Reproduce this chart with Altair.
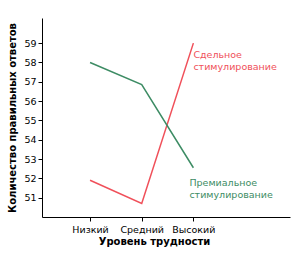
import altair as alt
import pandas as pd

categories = ["Низкий", "Средний", "Высокий"]
series_names = ["Сдельное стимулирование", "Премиальное стимулирование"]
piece_rate = [51.9, 50.7, 59.0]
premium = [58.0, 56.85, 52.55]
y_ticks = [51, 52, 53, 54, 55, 56, 57, 58, 59]

rows = []
for i, c in enumerate(categories):
    rows.append({"idx": i, "cat": c, "series": series_names[0], "value": piece_rate[i]})
    rows.append({"idx": i, "cat": c, "series": series_names[1], "value": premium[i]})
df = pd.DataFrame(rows)

colors = ["#f0505a", "#3d8c64"]
FONT = "DejaVu Sans"

x_scale = alt.Scale(domain=[-0.93, 3.87], nice=False, zero=False)
y_scale = alt.Scale(domain=[50, 60.3], nice=False, zero=False)

x_axis = alt.Axis(values=[0, 1, 2], grid=False, labelOverlap=False,
                  labelExpr="['Низкий','Средний','Высокий'][datum.value]",
                  title="Уровень трудности", titleFontWeight="bold",
                  titleX=112, titleAlign="center",
                  titleFont=FONT, titleFontSize=10, titlePadding=3,
                  labelFont=FONT, labelFontSize=9.5, labelColor="#000",
                  domainColor="#000", tickColor="#000", tickSize=4,
                  labelPadding=3)
y_axis = alt.Axis(values=y_ticks, grid=False, labelOverlap=False,
                  title="Количество правильных ответов", titleFontWeight="bold",
                  titleFont=FONT, titleFontSize=10, titlePadding=6,
                  labelFont=FONT, labelFontSize=9.5, labelColor="#000",
                  domainColor="#000", tickColor="#000", tickSize=4,
                  labelPadding=2)

def xe():
    return alt.X("idx:Q", scale=x_scale, axis=x_axis)

def ye():
    return alt.Y("value:Q", scale=y_scale, axis=y_axis)

lines = alt.Chart(df).mark_line(strokeWidth=1.5).encode(
    x=xe(), y=ye(),
    color=alt.Color("series:N", scale=alt.Scale(domain=series_names, range=colors), legend=None),
    detail="series:N",
)

lab1 = pd.DataFrame({"idx": [2], "value": [piece_rate[2]], "t": [["Сдельное", "стимулирование"]]})
lab2 = pd.DataFrame({"idx": [2], "value": [premium[2]], "t": [["Премиальное", " стимулирование"]]})

t1 = alt.Chart(lab1).mark_text(align="left", baseline="middle", dx=0, dy=12,
                               font=FONT, fontSize=9.5, color=colors[0], lineHeight=12).encode(
    x=xe(), y=ye(), text="t")
t2 = alt.Chart(lab2).mark_text(align="left", baseline="middle", dx=-4, dy=15,
                               font=FONT, fontSize=9.5, color=colors[1], lineHeight=12).encode(
    x=xe(), y=ye(), text="t")

chart = alt.layer(lines, t1, t2).properties(
    width=248, height=199,
    autosize=alt.AutoSizeParams(type="none"),
    padding={"left": 42, "top": 18, "right": 8, "bottom": 36},
).configure(background="white").configure_view(stroke=None)

chart.save("out.html", embed_options={"renderer": "svg", "actions": False})
